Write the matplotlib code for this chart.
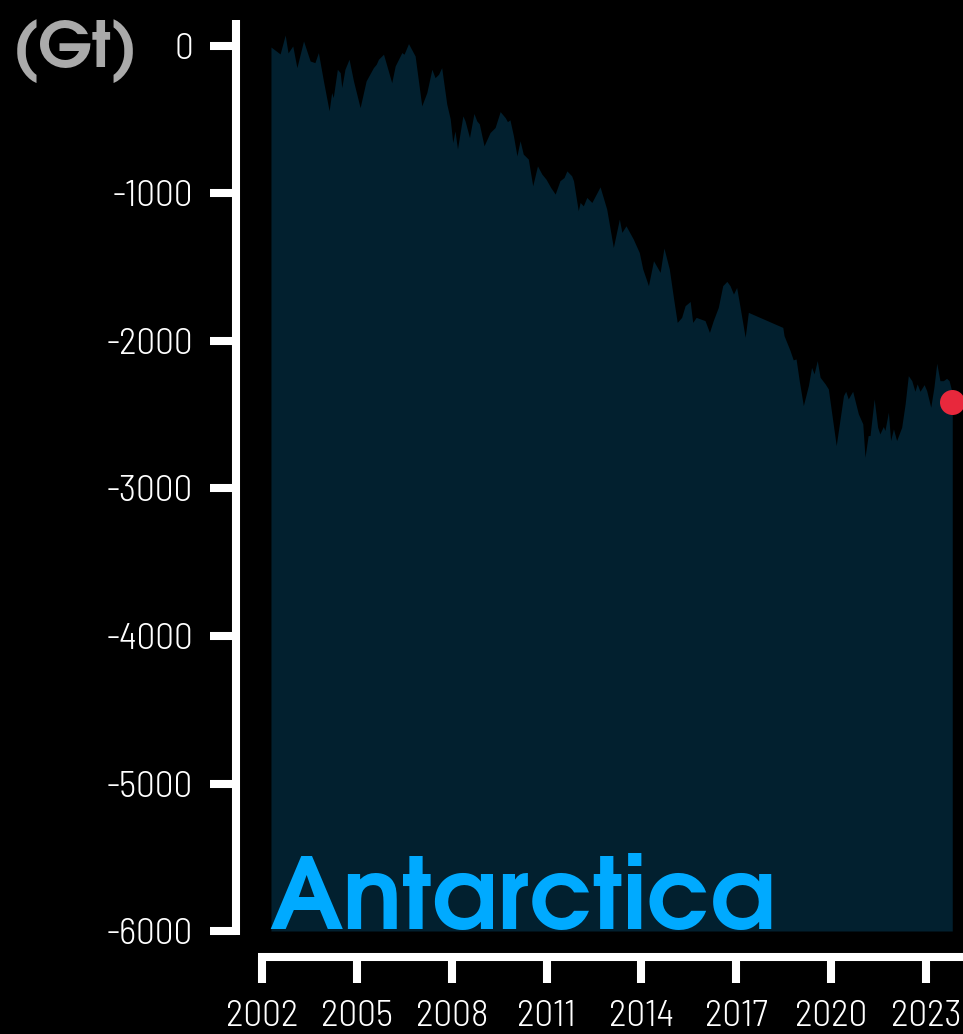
import matplotlib
matplotlib.use("Agg")
import matplotlib.pyplot as plt

# Antarctic ice mass change (Gt)
years = [
    2002.28, 2002.57, 2002.73, 2002.82, 2002.97, 2003.10, 2003.31, 2003.52, 2003.67, 2003.78,
    2003.94, 2004.12, 2004.20, 2004.25, 2004.38, 2004.47, 2004.52, 2004.62, 2004.75, 2004.89,
    2005.10, 2005.29, 2005.52, 2005.61, 2005.68, 2005.84, 2006.10, 2006.21, 2006.42, 2006.49,
    2006.63, 2006.84, 2007.05, 2007.21, 2007.37, 2007.47, 2007.58, 2007.68, 2007.84, 2007.95,
    2008.03, 2008.10, 2008.18, 2008.35, 2008.42, 2008.56, 2008.70, 2008.79, 2008.87, 2009.02,
    2009.21, 2009.37, 2009.53, 2009.69, 2009.76, 2009.84, 2009.95, 2010.06, 2010.16, 2010.26,
    2010.42, 2010.56, 2010.71, 2010.85, 2010.98, 2011.13, 2011.27, 2011.42, 2011.55, 2011.64,
    2011.79, 2011.85, 2012.00, 2012.06, 2012.16, 2012.27, 2012.43, 2012.69, 2012.90, 2013.11,
    2013.30, 2013.38, 2013.51, 2013.74, 2013.93, 2014.04, 2014.22, 2014.38, 2014.59, 2014.71,
    2014.88, 2015.01, 2015.13, 2015.27, 2015.38, 2015.54, 2015.62, 2015.73, 2016.01, 2016.15,
    2016.27, 2016.43, 2016.57, 2016.70, 2016.80, 2016.91, 2017.01, 2017.12, 2017.28, 2017.38,
    2018.47, 2018.51, 2018.70, 2018.80, 2018.89, 2018.99, 2019.12, 2019.28, 2019.38, 2019.46,
    2019.56, 2019.65, 2019.81, 2019.91, 2020.02, 2020.16, 2020.39, 2020.46, 2020.54, 2020.68,
    2020.86, 2021.00, 2021.07, 2021.17, 2021.23, 2021.36, 2021.47, 2021.54, 2021.65, 2021.70,
    2021.81, 2021.88, 2021.97, 2022.07, 2022.23, 2022.34, 2022.44, 2022.55, 2022.65, 2022.72,
    2022.81, 2022.94, 2023.02, 2023.15, 2023.25, 2023.34, 2023.44, 2023.55, 2023.65, 2023.73,
    2023.81, 2023.83,
]
mass_gt = [
    -7, -54, 74, -47, 0, -147, 34, -102, -113, -45,
    -237, -440, -316, -350, -158, -181, -282, -158, -90, -237,
    -418, -237, -147, -124, -90, -56, -249, -135, -45, -56,
    16, -68, -406, -316, -158, -215, -192, -147, -393, -494,
    -655, -576, -698, -474, -508, -621, -458, -508, -528, -677,
    -587, -553, -445, -486, -513, -501, -609, -745, -643, -733,
    -767, -948, -813, -869, -903, -960, -1004, -914, -892, -847,
    -880, -914, -1117, -1061, -1084, -1027, -1061, -955, -1106, -1366,
    -1174, -1264, -1219, -1309, -1400, -1512, -1625, -1456, -1535, -1370,
    -1512, -1705, -1874, -1840, -1761, -1732, -1874, -1840, -1862, -1942,
    -1862, -1772, -1625, -1596, -1625, -1682, -1637, -1772, -1975, -1806,
    -1908, -1964, -2065, -2128, -2122, -2269, -2438, -2302, -2179, -2223,
    -2133, -2246, -2291, -2325, -2494, -2709, -2370, -2341, -2393, -2341,
    -2494, -2562, -2788, -2641, -2641, -2393, -2585, -2630, -2580, -2607,
    -2483, -2675, -2596, -2675, -2585, -2426, -2235, -2269, -2341, -2291,
    -2341, -2296, -2336, -2449, -2314, -2151, -2269, -2269, -2253, -2269,
    -2336, -2411,
]

xtick_years = [2002, 2005, 2008, 2011, 2014, 2017, 2020, 2023]
ytick_vals = [0, -1000, -2000, -3000, -4000, -5000, -6000]
ytick_labels = ["0", "-1000", "-2000", "-3000", "-4000", "-5000", "-6000"]

FILL = "#02202f"
TITLE_BLUE = "#00aaff"
DOT_RED = "#e8283c"
TICK_FONT = ["Barlow Semi Condensed", "Barlow Condensed", "DejaVu Sans"]
HEAD_FONT = ["TeX Gyre Adventor", "DejaVu Sans"]

fig = plt.figure(figsize=(9.63, 10.34), dpi=100, facecolor="black")
W, H = 963, 1034
ax = fig.add_axes([258 / W, (H - 935) / H, (963 - 258) / W, (935 - 20) / H])
ax.set_facecolor("black")

ax.fill_between(years, mass_gt, -6000, color=FILL, lw=0, zorder=1)
ax.plot(years[-1], mass_gt[-1], "o", color=DOT_RED, ms=18, mec="none",
        zorder=5, clip_on=False)

ax.set_xlim(2001.87, 2024.17)
ax.set_ylim(-6027, 176)

for side in ("top", "right"):
    ax.spines[side].set_visible(False)
for side in ("left", "bottom"):
    ax.spines[side].set_color("white")
    ax.spines[side].set_linewidth(5.8)
    ax.spines[side].set_capstyle("butt")
    ax.spines[side].set_position(("outward", 15.8))

ax.set_xticks(xtick_years)
ax.set_xticklabels([str(y) for y in xtick_years])
ax.set_yticks(ytick_vals)
ax.set_yticklabels(ytick_labels)
ax.tick_params(axis="both", colors="white", width=5.8, length=19,
               labelsize=27, pad=12)
for lab in ax.get_xticklabels() + ax.get_yticklabels():
    lab.set_family(TICK_FONT)
    lab.set_fontweight(300)
    lab.set_color("white")

ax.text(2002.22, -5985, "Antarctica", color=TITLE_BLUE, fontsize=71.5,
        fontweight="bold", family=HEAD_FONT, ha="left", va="baseline", zorder=4)

fig.text(12 / W, 1 - 67 / H, "(Gt)", color="#aaaaaa", fontsize=46,
         fontweight="bold", family=HEAD_FONT, ha="left", va="baseline")

fig.savefig("out.png", dpi=100, facecolor="black")
